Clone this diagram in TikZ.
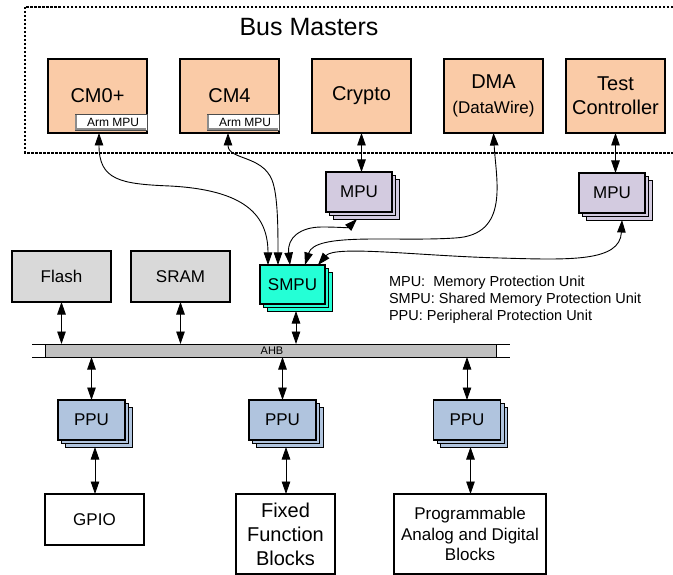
\documentclass[tikz,border=0pt]{standalone}
\usepackage{fontspec}
\setmainfont{Liberation Sans}
\usetikzlibrary{arrows.meta,shadows,calc}
\definecolor{bmfill}{HTML}{FACBA7}
\definecolor{mpufill}{HTML}{D3CBE0}
\definecolor{smpufill}{HTML}{24FFD6}
\definecolor{ppufill}{HTML}{B0C4DE}
\definecolor{memfill}{HTML}{D9D9D9}
\definecolor{busfill}{HTML}{C0C0C0}
\begin{document}
\begin{tikzpicture}[x=1pt,y=-1pt,
  every node/.style={inner sep=0pt, outer sep=0pt},
  box/.style={draw=black, line width=1.2pt, rectangle, align=center},
  master/.style={box, fill=bmfill, minimum width=99pt, minimum height=74pt, font=\fontsize{20}{24}\selectfont},
  armmpu/.style={draw=black!70, line width=0.8pt, fill=white, minimum width=72pt, minimum height=16pt, font=\fontsize{12}{13}\selectfont},
  bevel/.style={draw=black!45, line width=1.6pt},
  stackbox/.style={box, double copy shadow={shadow xshift=3.5pt, shadow yshift=-3.5pt, line width=0.7pt}, font=\fontsize{17}{20}\selectfont},
  mpubox/.style={stackbox, fill=mpufill, minimum width=66pt, minimum height=40pt},
  ppubox/.style={stackbox, fill=ppufill, minimum width=67pt, minimum height=40pt},
  membox/.style={box, fill=memfill, minimum width=99pt, minimum height=51pt, font=\fontsize{17}{20}\selectfont},
  plainbox/.style={box, fill=white, minimum height=80pt},
  frameline/.style={line width=1.1pt, dash pattern=on 2.5pt off 1.5pt},
  conn/.style={line width=0.9pt, {Triangle[length=12.5pt,width=8.5pt]}-{Triangle[length=12.5pt,width=8.5pt]}},
]
\useasboundingbox (0,0) rectangle (673,575);

% Bus masters frame
\draw[frameline] (673,7) -- (25,7) -- (25,153) -- (673,153);
\node[font=\fontsize{25}{30}\selectfont] (title) at (309,27) {Bus Masters};

% Bus masters
\node[master] (cm0) at (97.5,96) {CM0+};
\node[master] (cm4) at (229.5,96) {CM4};
\node[master] (crypto) at (361.5,96) {Crypto};
\node[master] (dma) at (493.5,96) {DMA\\[1pt]{\fontsize{17}{20}\selectfont(DataWire)}};
\node[master] (test) at (615.5,96) {Test\\Controller};
\node[armmpu] (arm0) at (111,122) {\hspace*{4pt}Arm MPU};
\node[armmpu] (arm4) at (243,122) {\hspace*{4pt}Arm MPU};
\foreach \a in {arm0, arm4}{
  \draw[bevel] ($(\a.north west)+(0.8,0.8)$) -- ($(\a.south west)+(0.8,-0.8)$) -- ($(\a.south east)+(-0.8,-0.8)$);
}

% MPUs and SMPU
\node[mpubox] (mpuc) at (359,192) {MPU};
\node[mpubox] (mput) at (612,193) {MPU};
\node[stackbox, fill=smpufill, minimum width=65pt, minimum height=39pt] (smpu) at (292.5,284.5) {SMPU};

% memories
\node[membox] (flash) at (61.5,276.5) {Flash};
\node[membox] (sram) at (180.5,276.5) {SRAM};

% legend
\node[anchor=west, align=left, font=\fontsize{14.5}{17}\selectfont] (legend) at (389,300)
  {MPU:\ \ Memory Protection Unit\\SMPU: Shared Memory Protection Unit\\PPU: Peripheral Protection Unit};

% AHB bus
\node[draw=black, line width=0.8pt, fill=busfill, minimum width=451pt, minimum height=13pt, anchor=north west] (bus) at (45,344) {};
\draw[line width=0.8pt] ($(bus.north west)+(-13,0)$) -- ($(bus.north east)+(14,0)$);
\draw[line width=0.8pt] ($(bus.south west)+(-13,0)$) -- ($(bus.south east)+(14,0)$);
\node[font=\fontsize{11}{13}\selectfont] (ahb) at (272,350.5) {AHB};

% PPUs
\node[ppubox] (ppu1) at (91.5,420) {PPU};
\node[ppubox] (ppu2) at (282.5,420) {PPU};
\node[ppubox] (ppu3) at (467,420) {PPU};

% peripherals
\node[box, fill=white, minimum width=99pt, minimum height=51pt, font=\fontsize{17}{20}\selectfont] (gpio) at (94.5,519.5) {GPIO};
\node[plainbox, minimum width=99pt, font=\fontsize{20}{24}\selectfont] (fixed) at (285.5,534) {Fixed\\Function\\Blocks};
\node[plainbox, minimum width=152pt, font=\fontsize{17}{20.5}\selectfont] (prog) at (470,534) {Programmable\\Analog and Digital\\Blocks};

% straight connectors
\draw[conn] (crypto.south) -- (crypto.south |- mpuc.north);
\draw[conn] (test.south) -- (test.south |- mput.north);
\draw[conn] (flash.south) -- (flash.south |- bus.north);
\draw[conn] (sram.south) -- (sram.south |- bus.north);
\coordinate (smpub) at ($(smpu.south)+(3.5,7)$);
\draw[conn] (smpub) -- (smpub |- bus.north);
\foreach \p/\q in {ppu1/gpio, ppu2/fixed, ppu3/prog}{
  \draw[conn] (\p.north |- bus.south) -- (\p.north);
  \coordinate (\p b) at ($(\p.south)+(3.5,7)$);
  \draw[conn] (\p b) -- (\p b |- \q.north);
}

% curved connectors to SMPU
\coordinate (c0) at ($(cm0.south)+(1.5,0)$);
\coordinate (c4) at ($(cm4.south)+(-1.5,0)$);
\coordinate (cm) at ($(mpuc.south)+(-2,7)$);
\coordinate (tm) at ($(mput.south)+(10,7)$);
\coordinate (s1) at ($(smpu.north)+(-24.5,0)$);
\coordinate (s2) at ($(smpu.north)+(-14.5,0)$);
\coordinate (s3) at ($(smpu.north)+(-2.5,0)$);
\coordinate (s4) at ($(smpu.north)+(12.5,0)$);
\coordinate (s5) at ($(smpu.north)+(25.5,0)$);

\draw[conn] (c0) .. controls (99,180) and (120,184) .. (170,186) .. controls (245,190) and (268,215) .. (s1);
\draw[conn] (c4) .. controls (228,160) and (262,155) .. (272,180) .. controls (278,195) and (278,230) .. (s2);
\draw[conn] (s3) .. controls (287,238) and (300,227) .. (322,227) .. controls (338,227) and (348,228) .. (cm);
\draw[conn] (dma.south) .. controls (496,180) and (510,235) .. (455,238) .. controls (395,242) and (315,232) .. (s4);
\draw[conn] (tm) .. controls (620,262) and (570,260) .. (500,258) .. controls (420,256) and (335,245) .. (s5);
\end{tikzpicture}
\end{document}
